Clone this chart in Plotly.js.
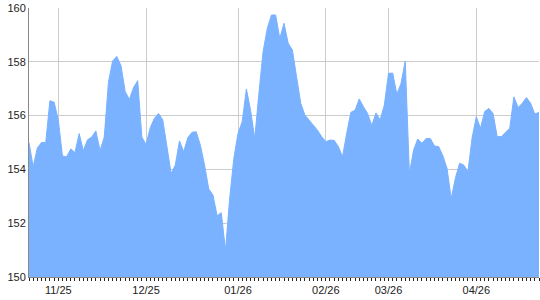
<!DOCTYPE html>
<html>
<head>
<meta charset="utf-8">
<script src="https://cdn.plot.ly/plotly-3.0.1.min.js"></script>
<style>html,body{margin:0;padding:0;background:#fff}#chart{width:540px;height:300px}</style>
</head>
<body>
<div id="chart"></div>
<script>
const values = [
155.0,154.1,154.8,155.0,155.0,156.55,156.5,155.85,154.5,154.47,
154.76,154.63,155.33,154.7,155.1,155.2,155.43,154.7,155.2,157.24,
158.03,158.2,157.86,156.9,156.6,157.04,157.3,155.2,154.93,155.55,
155.9,156.08,155.84,154.9,153.85,154.16,155.06,154.66,155.18,155.38,
155.4,154.9,154.16,153.27,153.05,152.28,152.39,151.0,152.92,154.41,
155.34,155.77,156.99,156.2,155.15,156.83,158.38,159.24,159.74,159.74,
158.87,159.43,158.69,158.44,157.45,156.46,156.02,155.84,155.68,155.46,
155.22,155.03,155.09,155.08,154.85,154.47,155.34,156.12,156.2,156.62,
156.33,156.08,155.63,156.1,155.84,156.39,157.57,157.58,156.79,157.2,
158.03,153.85,154.72,155.13,154.97,155.15,155.15,154.87,154.85,154.51,
154.04,152.92,153.67,154.23,154.16,153.92,155.18,155.96,155.53,156.15,
156.27,156.08,155.22,155.22,155.38,155.53,156.7,156.3,156.46,156.67,
156.46,156.06,156.12
];
const xIndex = values.map((v, i) => i);
const tickPositions = [7, 28, 50, 71, 86, 107];
const tickLabels = ['11/25', '12/25', '01/26', '02/26', '03/26', '04/26'];
const yTicks = [150, 152, 154, 156, 158, 160];

Plotly.newPlot('chart', [{
  x: xIndex,
  y: values,
  type: 'scatter',
  mode: 'lines',
  fill: 'tozeroy',
  fillcolor: 'rgb(122,178,255)',
  line: {color: 'rgb(122,178,255)', width: 1},
  hoverinfo: 'skip'
}], {
  width: 540, height: 300,
  margin: {l: 29, r: 1, t: 8, b: 23, pad: 0},
  paper_bgcolor: '#fff', plot_bgcolor: '#fff',
  showlegend: false,
  font: {family: 'Liberation Sans, Arial, sans-serif', size: 11, color: '#222'},
  xaxis: {
    range: [0, 122],
    tickmode: 'array', tickvals: tickPositions, ticktext: tickLabels,
    showgrid: true, gridcolor: '#cccccc', gridwidth: 1,
    ticks: 'outside', ticklen: 3, tickcolor: '#222', tickwidth: 1,
    minor: {dtick: 1, tick0: 0, ticks: 'outside', ticklen: 3, tickcolor: '#222', tickwidth: 1, showgrid: false},
    showline: true, linecolor: '#888', linewidth: 1,
    zeroline: false, fixedrange: true
  },
  yaxis: {
    range: [150, 160],
    tickmode: 'array', tickvals: yTicks, ticktext: yTicks.map(String),
    showgrid: true, gridcolor: '#cccccc', gridwidth: 1,
    ticks: '', ticklen: 0,
    showline: true, linecolor: '#888', linewidth: 1,
    zeroline: false, fixedrange: true
  }
}, {staticPlot: true, displayModeBar: false});
</script>
</body>
</html>
